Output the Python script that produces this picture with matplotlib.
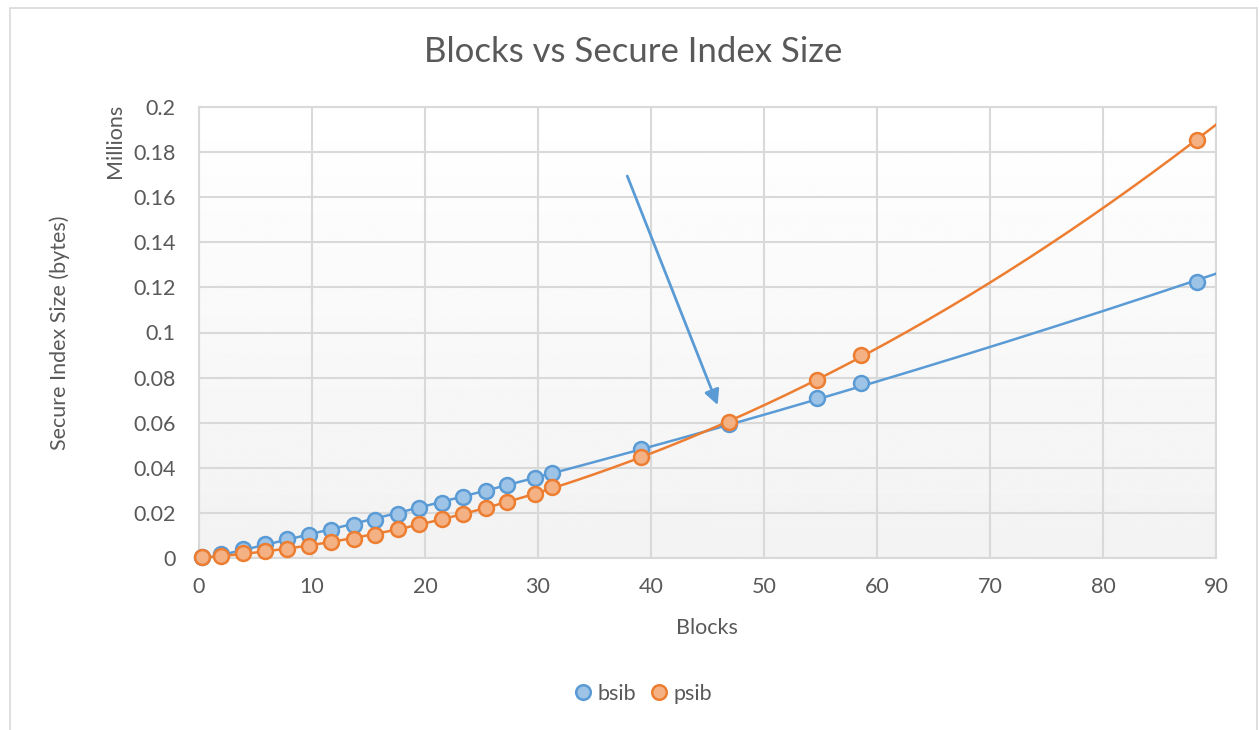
import numpy as np
import matplotlib
matplotlib.use("Agg")
import matplotlib.pyplot as plt
from matplotlib.lines import Line2D
from matplotlib.patches import Rectangle

plt.rcParams['font.family'] = ['Lato', 'DejaVu Sans']

# Number of blocks for each measurement
blocks = [0.3, 1.95, 3.9, 5.86, 7.8, 9.77, 11.7, 13.7, 15.6, 17.6, 19.5,
          21.5, 23.4, 25.4, 27.3, 29.7, 31.25, 39.1, 46.9, 54.7, 58.6, 88.3]

# Secure index size in millions of bytes
bsib = [0.0005, 0.0018, 0.0039, 0.0062, 0.0083, 0.0102, 0.0124, 0.0146,
        0.0169, 0.0195, 0.0220, 0.0245, 0.0269, 0.0296, 0.0322, 0.0356,
        0.0376, 0.0483, 0.0594, 0.0710, 0.0776, 0.1224]
psib = [0.0006, 0.0010, 0.0021, 0.0029, 0.0040, 0.0053, 0.0072, 0.0084,
        0.0104, 0.0127, 0.0151, 0.0172, 0.0195, 0.0220, 0.0250, 0.0284,
        0.0314, 0.0448, 0.0603, 0.0789, 0.0900, 0.1854]

x_ticks = [0, 10, 20, 30, 40, 50, 60, 70, 80, 90]
y_ticks = [0, 0.02, 0.04, 0.06, 0.08, 0.1, 0.12, 0.14, 0.16, 0.18, 0.2]
y_ticklabels = ["0", "0.02", "0.04", "0.06", "0.08", "0.1", "0.12", "0.14",
                "0.16", "0.18", "0.2"]

BLUE = "#5B9BD5"
BLUE_FILL = "#9DC3E6"
ORANGE = "#ED7D31"
ORANGE_FILL = "#F4B183"
GRID = "#D9D9D9"
TEXT = "#595959"
FS = 15.5

fig = plt.figure(figsize=(12.59, 7.30), dpi=100)

# chart border
fig.patches.append(Rectangle((10 / 1259, -0.05), 1247 / 1259, 1 - 8 / 730 + 0.05,
                             transform=fig.transFigure, fill=False,
                             edgecolor=GRID, linewidth=1.2))

ax = fig.add_axes([199 / 1259, 1 - 558 / 730, (1216 - 199) / 1259, (558 - 107) / 730])
ax.set_xlim(0, 90)
ax.set_ylim(0, 0.2)

# vertical gradient background of the plot area
grad = np.linspace(0.95, 1.0, 256).reshape(-1, 1)
ax.imshow(grad, extent=[0, 1, 0, 1], transform=ax.transAxes, cmap="gray",
          vmin=0, vmax=1, aspect="auto", origin="lower", zorder=0)

ax.set_xticks(x_ticks)
ax.set_yticks(y_ticks)
ax.set_yticklabels(y_ticklabels)
ax.grid(True, color=GRID, linewidth=1.5, zorder=1)
ax.set_axisbelow(True)
for s in ax.spines.values():
    s.set_color(GRID)
    s.set_linewidth(1.5)
ax.tick_params(length=0, labelsize=FS, colors=TEXT)
ax.tick_params(axis="x", pad=14)
ax.tick_params(axis="y", pad=17)

# polynomial trendlines, forecast forward to the axis edge
xs = np.linspace(blocks[0], 90, 300)
cb = np.polyfit(blocks, bsib, 2)
cp = np.polyfit(blocks, psib, 2)
ax.plot(xs, np.polyval(cb, xs), color=BLUE, linewidth=1.8, zorder=3)
ax.plot(xs, np.polyval(cp, xs), color=ORANGE, linewidth=1.8, zorder=3)

ax.scatter(blocks, bsib, s=115, facecolor=BLUE_FILL, edgecolor=BLUE,
           linewidth=1.8, zorder=4, clip_on=False)
ax.scatter(blocks, psib, s=115, facecolor=ORANGE_FILL, edgecolor=ORANGE,
           linewidth=1.8, zorder=5, clip_on=False)

# arrow pointing at the crossover
ax.annotate("", xy=(45.9, 0.0678), xytext=(37.9, 0.1694),
            arrowprops=dict(arrowstyle="-|>,head_length=0.9,head_width=0.45",
                            color=BLUE, linewidth=2, shrinkA=0, shrinkB=0),
            zorder=6)

fig.text(707 / 1259, 1 - 628 / 730, "Blocks", fontsize=FS, color=TEXT,
         ha="center", va="center")
fig.text(60 / 1259, 1 - 333 / 730, "Secure Index Size (bytes)", rotation=90,
         fontsize=FS, color=TEXT, ha="center", va="center")
fig.text(115 / 1259, 1 - 141 / 730, "Millions", rotation=90, fontsize=FS,
         color=TEXT, ha="center", va="center")

fig.text(633 / 1259, 1 - 52 / 730, "Blocks vs Secure Index Size", fontsize=25,
         color=TEXT, ha="center", va="center")

handles = [
    Line2D([], [], linestyle="none", marker="o", markersize=10.5,
           markerfacecolor=BLUE_FILL, markeredgecolor=BLUE, markeredgewidth=1.8),
    Line2D([], [], linestyle="none", marker="o", markersize=10.5,
           markerfacecolor=ORANGE_FILL, markeredgecolor=ORANGE, markeredgewidth=1.8),
]
fig.legend(handles, ["bsib", "psib"], loc="center", ncol=2,
           bbox_to_anchor=(640 / 1259, 1 - 694 / 730), frameon=False,
           fontsize=FS, labelcolor=TEXT, handletextpad=0.0, columnspacing=0.35,
           handlelength=1.4)

fig.savefig("out.png", dpi=100)
